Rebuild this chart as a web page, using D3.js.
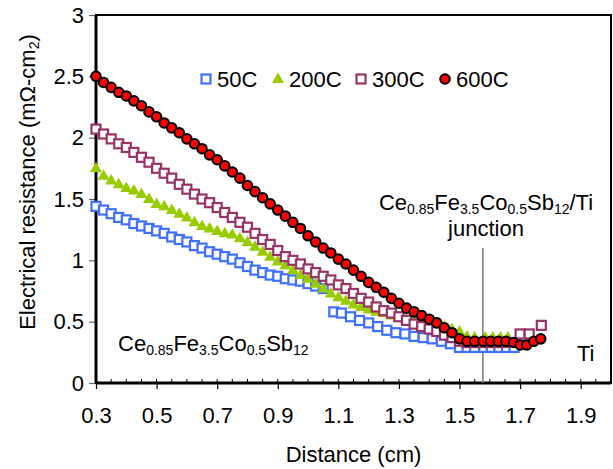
<!DOCTYPE html>
<html lang="en">
<head>
<meta charset="utf-8">
<title>Electrical resistance vs distance</title>
<script src="https://d3js.org/d3.v7.min.js"></script>
<style>
    body { margin: 0; background: #fff; }
    svg { font-family: "Liberation Sans", Arial, sans-serif; }
    .tick text { font-size: 22px; fill: #000; }
    .lbl { font-size: 22px; fill: #000; }
    .note { font-size: 22px; fill: #000; }
</style>
</head>
<body>
<svg id="chart" width="613" height="469"></svg>
<script>
// ---------------- data ----------------
var x50 = [0.300,0.325,0.350,0.375,0.400,0.425,0.450,0.475,0.500,0.525,0.550,0.575,0.600,0.625,0.650,0.675,0.700,0.725,0.750,0.775,0.800,0.825,0.850,0.875,0.900,0.925,0.950,0.975,1.000,1.025,1.050,1.085,1.110,1.140,1.170,1.200,1.230,1.260,1.290,1.320,1.350,1.380,1.410,1.440,1.470,1.500,1.525,1.550,1.580,1.605,1.630,1.655,1.680];
var y50 = [1.44,1.41,1.38,1.35,1.33,1.30,1.28,1.26,1.24,1.22,1.19,1.17,1.15,1.12,1.10,1.07,1.05,1.03,1.01,0.98,0.95,0.92,0.90,0.88,0.87,0.85,0.84,0.83,0.81,0.79,0.77,0.58,0.57,0.54,0.51,0.49,0.46,0.43,0.41,0.40,0.38,0.37,0.36,0.34,0.32,0.29,0.29,0.29,0.29,0.29,0.29,0.29,0.29];

var x200 = [0.300,0.325,0.350,0.375,0.400,0.425,0.450,0.475,0.500,0.525,0.550,0.575,0.600,0.625,0.650,0.675,0.700,0.725,0.750,0.775,0.800,0.825,0.850,0.875,0.900,0.925,0.950,0.975,1.000,1.025,1.050,1.075,1.100,1.125,1.150,1.175,1.200,1.225,1.250,1.275,1.300,1.325,1.350,1.375,1.400,1.425,1.450,1.475,1.500,1.525,1.550,1.585,1.610,1.635,1.660];
var y200 = [1.75,1.69,1.65,1.62,1.59,1.57,1.54,1.50,1.46,1.44,1.41,1.38,1.35,1.31,1.28,1.26,1.24,1.22,1.21,1.18,1.15,1.11,1.07,1.03,0.99,0.96,0.92,0.88,0.85,0.81,0.77,0.73,0.70,0.67,0.64,0.62,0.60,0.58,0.57,0.55,0.54,0.52,0.51,0.50,0.49,0.47,0.46,0.44,0.42,0.38,0.37,0.37,0.37,0.37,0.37];

var x300 = [0.300,0.325,0.350,0.375,0.400,0.425,0.450,0.475,0.500,0.525,0.550,0.575,0.600,0.625,0.650,0.675,0.700,0.725,0.750,0.775,0.800,0.825,0.850,0.875,0.900,0.925,0.950,0.975,1.000,1.025,1.050,1.075,1.100,1.125,1.150,1.175,1.200,1.225,1.250,1.275,1.300,1.325,1.350,1.375,1.400,1.425,1.450,1.475,1.500,1.525,1.550,1.575,1.600,1.625,1.650,1.700,1.730,1.770];
var y300 = [2.07,2.03,1.99,1.95,1.92,1.88,1.84,1.80,1.75,1.71,1.67,1.62,1.58,1.54,1.50,1.47,1.43,1.39,1.35,1.31,1.27,1.22,1.17,1.13,1.08,1.03,1.00,0.97,0.93,0.90,0.87,0.84,0.80,0.77,0.73,0.69,0.66,0.62,0.59,0.57,0.54,0.51,0.48,0.46,0.44,0.42,0.39,0.37,0.34,0.33,0.33,0.33,0.33,0.33,0.33,0.40,0.40,0.47];

var x600 = [0.300,0.325,0.350,0.375,0.400,0.425,0.450,0.475,0.500,0.525,0.550,0.575,0.600,0.625,0.650,0.675,0.700,0.725,0.750,0.775,0.800,0.825,0.850,0.875,0.900,0.925,0.950,0.975,1.000,1.025,1.050,1.075,1.100,1.125,1.150,1.175,1.200,1.225,1.250,1.275,1.300,1.325,1.350,1.375,1.400,1.425,1.450,1.475,1.500,1.525,1.550,1.578,1.603,1.628,1.653,1.678,1.700,1.722,1.745,1.768];
var y600 = [2.50,2.45,2.41,2.37,2.34,2.30,2.26,2.21,2.17,2.12,2.08,2.04,1.99,1.95,1.91,1.86,1.82,1.77,1.72,1.67,1.61,1.56,1.51,1.46,1.41,1.36,1.31,1.26,1.20,1.15,1.10,1.06,1.01,0.97,0.92,0.87,0.82,0.78,0.74,0.69,0.65,0.61,0.58,0.55,0.52,0.49,0.45,0.41,0.36,0.34,0.34,0.34,0.34,0.34,0.34,0.33,0.31,0.31,0.34,0.36];

var seriesNames = ["50C", "200C", "300C", "600C"];
var xTicks = [0.3, 0.5, 0.7, 0.9, 1.1, 1.3, 1.5, 1.7, 1.9];
var yTicks = [0, 0.5, 1, 1.5, 2, 2.5, 3];
var junctionX = 1.577;
var junctionTop = 1.1;

// ---------------- layout ----------------
var margin = {top: 15, right: 2, bottom: 86, left: 96};
var W = 613, H = 469;
var svg = d3.select("#chart");

var x = d3.scaleLinear().domain([0.3, 2.0]).range([margin.left, W - margin.right]);
var y = d3.scaleLinear().domain([0, 3]).range([H - margin.bottom, margin.top]);

var styles = {
    "50C":  {type: "square", color: "#3f6fff"},
    "200C": {type: "triangle", color: "#99cc00"},
    "300C": {type: "square", color: "#993366"},
    "600C": {type: "circle", color: "#ff0000"}
};

function drawMarker(sel, name) {
    var s = styles[name];
    if (s.type == "square") {
        sel.append("rect").attr("x", -4.5).attr("y", -4.5).attr("width", 9).attr("height", 9)
            .attr("fill", "#fff").attr("stroke", s.color).attr("stroke-width", 2.2);
    } else if (s.type == "triangle") {
        sel.append("path").attr("d", "M0,-6.5L6,4L-6,4Z").attr("fill", s.color);
    } else {
        sel.append("circle").attr("r", 4.8).attr("fill", s.color)
            .attr("stroke", "#000").attr("stroke-width", 2);
    }
}

// minor x ticks (inside)
var minor = d3.range(0.3, 2.001, 0.05);
svg.append("g").selectAll("line").data(minor).enter().append("line")
    .attr("x1", function(d){ return x(d); }).attr("x2", function(d){ return x(d); })
    .attr("y1", y(0)).attr("y2", y(0) - 4)
    .attr("stroke", "#000").attr("stroke-width", 1);

// axes
var xAxis = svg.append("g").attr("transform", "translate(0," + y(0) + ")")
    .call(d3.axisBottom(x).tickValues(xTicks).tickSize(6).tickPadding(18)
        .tickFormat(d3.format(".1f")));
xAxis.select(".domain").remove();
xAxis.selectAll(".tick line").attr("stroke-width", 1.2);

var yAxis = svg.append("g").attr("transform", "translate(" + margin.left + ",0)")
    .call(d3.axisLeft(y).tickValues(yTicks).tickSize(7).tickPadding(5)
        .tickFormat(function(d){ return d3.format("")(d); }));
yAxis.select(".domain").remove();
yAxis.selectAll(".tick line").attr("stroke-width", 1.2).attr("stroke", "#666");

// frame
svg.append("rect")
    .attr("x", margin.left).attr("y", margin.top)
    .attr("width", W - margin.right - margin.left).attr("height", y(0) - margin.top)
    .attr("fill", "none").attr("stroke", "#000").attr("stroke-width", 2);
svg.append("line").attr("x1", margin.left).attr("x2", margin.left)
    .attr("y1", margin.top).attr("y2", y(0)).attr("stroke", "#000").attr("stroke-width", 3);
svg.append("line").attr("x1", margin.left).attr("x2", W - margin.right)
    .attr("y1", y(0)).attr("y2", y(0)).attr("stroke", "#000").attr("stroke-width", 3);

// junction line
svg.append("line").attr("x1", x(junctionX)).attr("x2", x(junctionX))
    .attr("y1", y(junctionTop)).attr("y2", y(0))
    .attr("stroke", "#777").attr("stroke-width", 1.5);

// series
var allX = [x50, x200, x300, x600];
var allY = [y50, y200, y300, y600];
seriesNames.forEach(function(name, i) {
    var pts = allX[i].map(function(v, j){ return [v, allY[i][j]]; });
    svg.append("g").selectAll("g").data(pts).enter().append("g")
        .attr("transform", function(d){ return "translate(" + x(d[0]) + "," + y(d[1]) + ")"; })
        .each(function(){ drawMarker(d3.select(this), name); });
});

// legend
var legendX = [206, 278, 361, 445];
var leg = svg.append("g");
seriesNames.forEach(function(name, i) {
    var g = leg.append("g").attr("transform", "translate(" + legendX[i] + ",79)");
    drawMarker(g, name);
    g.append("text").attr("class", "lbl").attr("x", 11).attr("y", 8).text(name);
});

// chemical formula with subscripts
function chem(sel, suffix) {
    var bits = [["Ce"],["0.85",1],["Fe",0,1],["3.5",1],["Co",0,1],["0.5",1],["Sb",0,1],["12",1]];
    bits.forEach(function(b){
        var t = sel.append("tspan").text(b[0]);
        if (b[1]) t.attr("font-size", 14).attr("dy", 4);
        else if (b[2]) t.attr("dy", -4);
    });
    if (suffix) sel.append("tspan").attr("dy", -4).text(suffix);
}

var jt = svg.append("text").attr("class", "note").attr("x", 486).attr("y", 210)
    .attr("text-anchor", "middle");
chem(jt, "/Ti");
svg.append("text").attr("class", "note").attr("x", 486).attr("y", 236)
    .attr("text-anchor", "middle").text("junction");

var bl = svg.append("text").attr("class", "note").attr("x", 118).attr("y", 351);
chem(bl, null);
svg.append("text").attr("class", "note").attr("x", 577).attr("y", 361).text("Ti");

// axis titles
svg.append("text").attr("class", "lbl").attr("x", (margin.left + W - margin.right) / 2)
    .attr("y", 462).attr("text-anchor", "middle").text("Distance (cm)");
var yt = svg.append("text").attr("class", "lbl").attr("text-anchor", "middle")
    .attr("transform", "translate(35,182) rotate(-90)");
yt.append("tspan").text("Electrical resistance (m\u03A9-cm");
yt.append("tspan").attr("font-size", 14).attr("dy", 4).text("2");
yt.append("tspan").attr("dy", -4).text(")");
</script>
</body>
</html>
